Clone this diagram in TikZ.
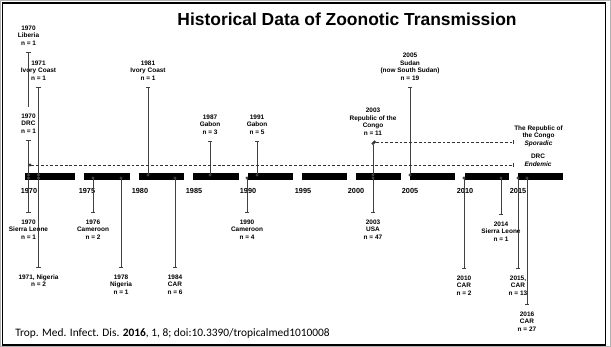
\documentclass[tikz,border=0pt]{standalone}
\usepackage{fontspec}
\setmainfont{Liberation Sans}
\newfontfamily\citefont{Carlito}
\usetikzlibrary{arrows.meta}

\begin{document}
\begin{tikzpicture}[x=0.025cm, y=-0.025cm,
    lab/.style={align=center, font=\bfseries\fontsize{4.6}{5.4}\selectfont, inner xsep=0pt, inner ysep=4.5pt},
    yr/.style={font=\bfseries\fontsize{5.2}{6}\selectfont, inner sep=0pt},
    seg/.style={fill=black, inner sep=0pt, minimum height=0.175cm},
    conn/.style={draw=black!75, line width=0.5pt, {Bar[width=3pt]}-{Circle[length=2.2pt]}},
    dline/.style={draw=black!80, line width=0.5pt, dash pattern=on 2pt off 1.4pt, {Circle[length=2.2pt]}-{Bar[width=3pt]}}]
	\useasboundingbox (0,0) rectangle (611,347);
	\draw[gray!60, line width=0.8pt] (0.5,0.5) rectangle (610.5,346.5);
	\draw[line width=1.2pt] (2.5,3) rectangle (605.5,345);
	\node[font=\bfseries\fontsize{12.4}{14}\selectfont] (title) at (347,19) {Historical Data of Zoonotic Transmission};
	\foreach \i/\a/\b in {1/25/75, 2/84/130, 3/139/184, 4/193/239, 5/248/293, 6/302/347, 7/356/401, 8/410/455, 9/465/509, 10/518/563}
		\node[seg, minimum width={(\b-\a)*0.025cm}] (seg\i) at ({(\a+\b)/2},176.5) {};
	\foreach \yr/\x in {1970/29, 1975/87, 1980/140, 1985/194, 1990/248, 1995/303, 2000/356, 2005/410, 2010/465, 2015/518}
		\node[yr] (y\yr) at (\x,191) {\yr};
	\node[lab, anchor=south] (lib) at (28.5,52) {1970\\Liberia\\n = 1};
	\node[lab, anchor=south] (drc) at (28.5,140) {1970\\DRC\\n = 1};
	\node[lab, anchor=south] (ivc71) at (38.5,87) {1971\\Ivory Coast\\n = 1};
	\node[lab, anchor=south] (ivc81) at (148,87) {1981\\Ivory Coast\\n = 1};
	\node[lab, anchor=south] (gab87) at (210,141) {1987\\Gabon\\n = 3};
	\node[lab, anchor=south] (gab91) at (257,141) {1991\\Gabon\\n = 5};
	\node[lab, anchor=south] (roc03) at (373,142) {2003\\Republic of the\\Congo\\n = 11};
	\node[lab, anchor=south] (sud05) at (410,87) {2005\\Sudan\\(now South Sudan)\\n = 19};
	\node[lab, anchor=north] (sl70) at (28.5,213) {1970\\Sierra Leone\\n = 1};
	\node[lab, anchor=north] (nga71) at (38.5,268) {1971, Nigeria\\n = 2};
	\node[lab, anchor=north] (cmr76) at (93,213) {1976\\Cameroon\\n = 2};
	\node[lab, anchor=north] (nga78) at (121,268) {1978\\Nigeria\\n = 1};
	\node[lab, anchor=north] (car84) at (175,268) {1984\\CAR\\n = 6};
	\node[lab, anchor=north] (cmr90) at (247,213) {1990\\Cameroon\\n = 4};
	\node[lab, anchor=north] (usa03) at (373,213) {2003\\USA\\n = 47};
	\node[lab, anchor=north] (car10) at (464,269) {2010\\CAR\\n = 2};
	\node[lab, anchor=north] (sl14) at (501,215) {2014\\Sierra Leone\\n = 1};
	\node[lab, anchor=north] (car15) at (518,269) {2015,\\CAR\\n = 13};
	\node[lab, anchor=north] (car16) at (527,305) {2016\\CAR\\n = 27};
	\node[lab, inner ysep=0pt] (rcs) at (538.5,136) {The Republic of\\the Congo\\\textit{Sporadic}};
	\node[lab, inner ysep=0pt] (drcend) at (538,160.5) {DRC\\\textit{Endemic}};
	\coordinate (endm) at (28.5,165);
	\draw[conn, {Bar[width=3pt]}-] (lib.south) -- (drc.north);
	\foreach \n in {drc, ivc71, ivc81, gab87, gab91, sud05, sl70, nga71, cmr76, nga78, car84, cmr90, usa03, car10, sl14, car15, car16}
		\draw[conn] (\n) -- (\n |- seg1);
	\draw[conn, {Circle[length=2.2pt]}-{Circle[length=2.2pt]}] (roc03.south) -- (roc03 |- seg1);
	\draw[dline] (roc03.south) -- (roc03.south -| rcs.west);
	\draw[dline] (endm) -- (endm -| rcs.west);
	\node[anchor=west, inner sep=0pt, font=\citefont\fontsize{8.1}{9}\selectfont] (cite) at (15,333) {Trop. Med. Infect. Dis. \textbf{2016}, 1, 8; doi:10.3390/tropicalmed1010008};
\end{tikzpicture}
\end{document}
